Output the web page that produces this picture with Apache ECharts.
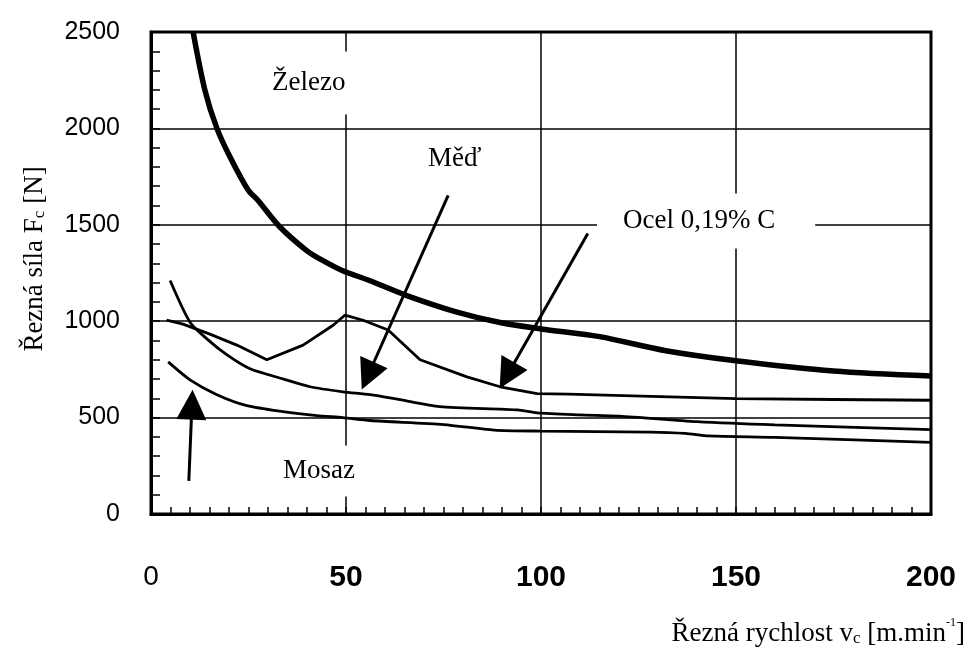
<!DOCTYPE html>
<html><head><meta charset="utf-8">
<script src="https://cdn.jsdelivr.net/npm/echarts@6/dist/echarts.min.js"></script>
<style>html,body{margin:0;padding:0;background:#fff}#c{width:968px;height:650px}</style>
</head><body><div id="c"></div><script>
// Data (x = cutting speed m/min, y = cutting force N)
const zelezo = [[10.8,2500],[13.8,2200],[16.9,2000],[20.3,1850],[24.9,1680],[27.4,1627],[33,1490],[40,1365],[44,1315],[49,1263],[56,1211],[65.6,1133],[78,1050],[89.5,993],[100,960],[115,920],[132,847],[150,795],[175,742],[200,716]];
const ocel = [[4,1005],[8.2,985],[15.1,933],[22,876],[29.7,800],[39,876],[46.7,979],[49.7,1031],[54.4,1005],[60.8,954],[69,800],[81,711],[89.5,660],[99,624],[107,622],[133,608],[150,598],[175,594],[200,590]];
const med = [[4.9,1211],[10,995],[14.4,907],[19.5,825],[25.4,753],[33.8,701],[40.8,660],[49.2,634],[56.2,619],[63.8,593],[74,557],[94,540],[99,524],[110,514],[120,508],[140,479],[160,462],[200,438]];
const mosaz = [[4.4,789],[10,696],[16.9,619],[24.6,562],[33.8,531],[42.6,510],[49.2,500],[56.2,485],[75,464],[88,435],[100,430],[128,425],[137,418],[143,405],[160,397],[200,371]];
// annotation arrows [tail, head]
const arrowMosaz = [[9.7,172],[10.5,567]];
const arrowMed = [[76.2,1653],[55.6,717]];
const arrowOcel = [[112,1455],[91.3,718]];

const SERIF = "'Liberation Serif','Times New Roman',serif";
const SANS = "'Liberation Sans',Arial,sans-serif";

const chart = echarts.init(document.getElementById('c'), null, {renderer:'canvas'});
const lineS = (name, data, w, smooth) => ({
  name, type:'line', data, showSymbol:false, smooth, silent:true,
  lineStyle:{color:'#000', width:w}, z:3
});
const arrow = (a) => [{coord:a[0]},{coord:a[1]}];

chart.setOption({
  animation:false,
  backgroundColor:'#fff',
  grid:{left:151, right:37, top:32, bottom:136, show:true, borderColor:'#000', borderWidth:3, containLabel:false},
  xAxis:{
    type:'value', min:0, max:200, interval:50,
    axisLine:{show:true, lineStyle:{color:'#000', width:3}},
    axisTick:{show:true, inside:true, length:7, lineStyle:{color:'#000', width:1.5}},
    minorTick:{show:true, splitNumber:10, length:7, lineStyle:{color:'#000', width:1.5}},
    splitLine:{show:true, lineStyle:{color:'#000', width:1.5}},
    axisLabel:{
      margin:49, color:'#000', fontFamily:SANS, fontSize:30, fontWeight:'bold',
      formatter: v => v === 0 ? '{n|0}' : '{b|' + v + '}',
      rich:{n:{fontFamily:SANS, fontSize:28, fontWeight:'normal', color:'#000'},
            b:{fontFamily:SANS, fontSize:30, fontWeight:'bold', color:'#000'}}
    }
  },
  yAxis:{
    type:'value', min:0, max:2500, interval:500,
    axisLine:{show:true, lineStyle:{color:'#000', width:3}},
    axisTick:{show:true, inside:true, length:9, lineStyle:{color:'#000', width:1.5}},
    minorTick:{show:true, splitNumber:5, length:9, lineStyle:{color:'#000', width:1.5}},
    splitLine:{show:true, lineStyle:{color:'#000', width:1.5}},
    axisLabel:{margin:31, color:'#000', fontFamily:SANS, fontSize:25, formatter: v => String(v)}
  },
  series:[
    lineS('Železo', zelezo, 5.5, 0.3),
    lineS('Ocel 0,19% C', ocel, 2.8, false),
    lineS('Měď', med, 2.8, 0.25),
    Object.assign(lineS('Mosaz', mosaz, 2.8, 0.25), {
      markLine:{
        silent:true, animation:false,
        symbol:['none','triangle'], symbolSize:30,
        label:{show:false},
        lineStyle:{color:'#000', width:3, type:'solid'},
        itemStyle:{color:'#000'},
        emphasis:{disabled:true},
        data:[arrow(arrowMosaz), arrow(arrowMed), arrow(arrowOcel)]
      }
    })
  ],
  graphic:[
    {type:'text', z:100, x:262, y:83, style:{text:'Železo', font:'27px '+SERIF, fill:'#000', align:'left', verticalAlign:'middle', backgroundColor:'#fff', padding:[18,4,18,10]}},
    {type:'text', z:100, x:428, y:159, style:{text:'Měď', font:'27px '+SERIF, fill:'#000', align:'left', verticalAlign:'middle'}},
    {type:'text', z:100, x:597, y:221, style:{text:'Ocel 0,19% C', font:'27px '+SERIF, fill:'#000', align:'left', verticalAlign:'middle', backgroundColor:'#fff', padding:[14,40,14,26]}},
    {type:'text', z:100, x:277, y:471, style:{text:'Mosaz', font:'27px '+SERIF, fill:'#000', align:'left', verticalAlign:'middle', backgroundColor:'#fff', padding:[12,4,12,6]}},
    {type:'text', z:100, x:33, y:259, rotation:Math.PI/2, style:{
      text:'{a|Řezná síla F}{s|c}{a| [N]}', align:'center', verticalAlign:'middle', fill:'#000',
      rich:{a:{fontFamily:SERIF, fontSize:27, lineHeight:30, verticalAlign:'bottom', fill:'#000'},
            s:{fontFamily:SERIF, fontSize:17, lineHeight:20, verticalAlign:'bottom', fill:'#000'}}}},
    {type:'text', z:100, x:965, y:632, style:{
      text:'{a|Řezná rychlost v}{s|c}{a| [m.min}{p|-1}{a|]}', align:'right', verticalAlign:'middle', fill:'#000',
      rich:{a:{fontFamily:SERIF, fontSize:27, lineHeight:30, verticalAlign:'bottom', fill:'#000'},
            s:{fontFamily:SERIF, fontSize:17, lineHeight:20, verticalAlign:'bottom', fill:'#000'},
            p:{fontFamily:SERIF, fontSize:12, lineHeight:16, verticalAlign:'top', fill:'#000'}}}}
  ]
});
</script></body></html>
